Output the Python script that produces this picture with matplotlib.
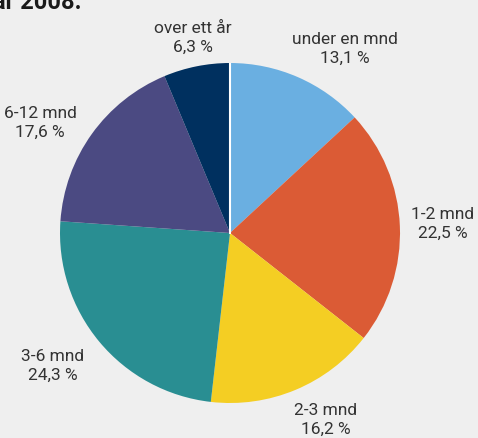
import matplotlib
matplotlib.use("Agg")
import matplotlib.pyplot as plt
import numpy as np

# Data #
labels = ["under en mnd", "1-2 mnd", "2-3 mnd", "3-6 mnd", "6-12 mnd", "over ett år"]
values = [13.1, 22.5, 16.2, 24.3, 17.6, 6.3]
colors = ["#6aafe1", "#db5b35", "#f4ce23", "#298e92", "#4b4a82", "#00305f"]
title = "år 2008."

# label placement (in pie radius units), layout only
label_xy = [(0.676, 1.082), (1.253, 0.053), (0.565, -1.10),
            (-1.041, -0.782), (-1.118, 0.647), (-0.218, 1.147)]

plt.rcParams['font.family'] = ['Roboto', 'DejaVu Sans']
bg = "#efefef"

fig = plt.figure(figsize=(4.78, 4.38), dpi=100, facecolor=bg)
cx, cy, r = 230, 233, 170
ax = fig.add_axes([(cx - r) / 478, (438 - cy - r) / 438, 2 * r / 478, 2 * r / 438])
ax.set_facecolor(bg)

start = 90
wedges, _ = ax.pie(values, colors=colors, startangle=start, counterclock=False, radius=1)

for l, v, (x, y) in zip(labels, values, label_xy):
    ax.text(x, y, f"{l}\n{str(v).replace('.', ',')} %", ha='center', va='center',
            fontsize=12.5, fontweight='normal', color="#333333", linespacing=1.3,
            clip_on=False)

# thin white seam at the start of the first slice
a = np.deg2rad(start)
ax.plot([0, np.cos(a)], [0, np.sin(a)], color="white", lw=1.5)

ax.set_xlim(-1, 1)
ax.set_ylim(-1, 1)
ax.set_aspect('equal')
ax.axis('off')

fig.text(-0.014, 0.98, title, fontsize=17, fontweight='bold', color="#1a1a1a", va='baseline')

fig.savefig("out.png", dpi=100, facecolor=bg)
